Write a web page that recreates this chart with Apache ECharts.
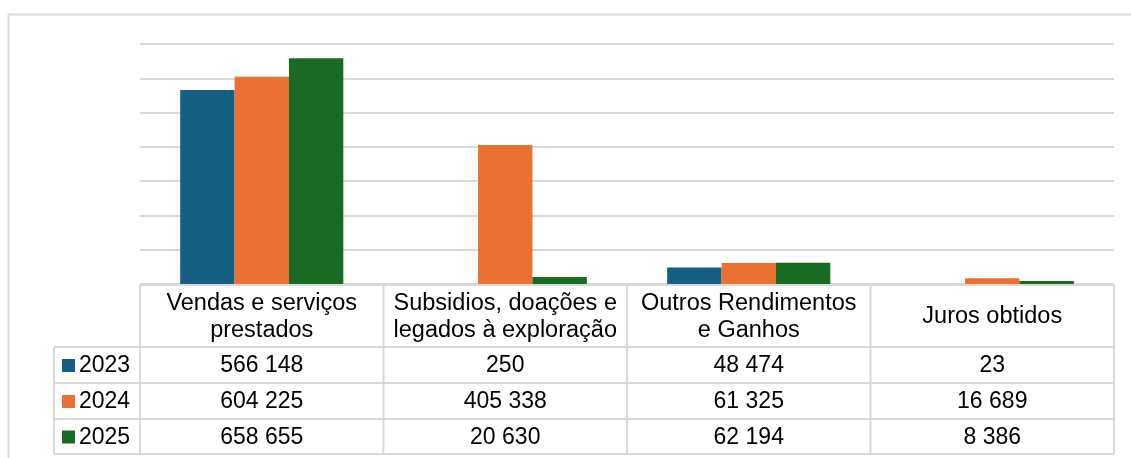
<!DOCTYPE html>
<html>
<head>
<meta charset="utf-8">
<script src="https://cdn.jsdelivr.net/npm/echarts@6/dist/echarts.min.js"></script>
<style>
  html, body { margin: 0; padding: 0; background: #fff; }
  #chart { width: 1131px; height: 458px; }
</style>
</head>
<body>
<div id="chart"></div>
<script>
// categorias e valores (tabela de dados)
const categories = ['Vendas e serviços\nprestados', 'Subsidios, doações e\nlegados à exploração', 'Outros Rendimentos\ne Ganhos', 'Juros obtidos']
const years = ['2023', '2024', '2025']
const values2023 = [566148, 250, 48474, 23]
const values2024 = [604225, 405338, 61325, 16689]
const values2025 = [658655, 20630, 62194, 8386]
const yTicks = [0, 100000, 200000, 300000, 400000, 500000, 600000, 700000]

const seriesValues = [values2023, values2024, values2025]
const colors = ['#156082', '#E97132', '#196B24']
const lineColor = '#d9d9d9'
const font = '"Liberation Sans", Arial, sans-serif'

// formata com espaço como separador de milhares
function fmt(v) {
  return String(v).replace(/\B(?=(\d{3})+(?!\d))/g, ' ')
}

const chart = echarts.init(document.getElementById('chart'), null, { renderer: 'canvas' })

chart.setOption({
  animation: false,
  grid: { left: 140, right: 17, top: 44, bottom: 174 },
  xAxis: {
    type: 'category',
    data: categories,
    axisLine: { show: false },
    axisTick: { show: false },
    axisLabel: { show: false },
  },
  yAxis: {
    type: 'value',
    min: yTicks[0],
    max: yTicks[yTicks.length - 1],
    interval: yTicks[1] - yTicks[0],
    axisLabel: { show: false },
    axisLine: { show: false },
    axisTick: { show: false },
    splitLine: { lineStyle: { color: lineColor, width: 2 } },
  },
  series: years.map((y, i) => ({
    name: y,
    type: 'bar',
    data: seriesValues[i],
    barGap: '0%',
    barCategoryGap: '33%',
    itemStyle: { color: colors[i] },
  })),
})

// tabela de dados desenhada por baixo do gráfico
const centers = categories.map((c, i) => chart.convertToPixel({ xAxisIndex: 0 }, i))
const band = centers[1] - centers[0]
const colEdges = [centers[0] - band / 2].concat(centers.map(c => c + band / 2))
const tableTop = 285
const headerBottom = 347
const rowEdges = [headerBottom, 383, 419, 454]
const legendLeft = 54

const g = []
function hline(x1, x2, y) {
  g.push({ type: 'line', shape: { x1, y1: y, x2, y2: y }, style: { stroke: lineColor, lineWidth: 2 }, silent: true })
}
function vline(x, y1, y2) {
  g.push({ type: 'line', shape: { x1: x, y1, x2: x, y2 }, style: { stroke: lineColor, lineWidth: 2 }, silent: true })
}

// moldura exterior
g.push({
  type: 'rect',
  shape: { x: 8.5, y: 14.5, width: 1124, height: 470 },
  style: { fill: 'none', stroke: lineColor, lineWidth: 2 },
  silent: true,
})

hline(colEdges[0], colEdges[4], tableTop)
rowEdges.forEach(y => hline(legendLeft, colEdges[4], y))
colEdges.forEach(x => vline(x, tableTop, rowEdges[3]))
vline(legendLeft, rowEdges[0], rowEdges[3])

// cabeçalhos
categories.forEach((c, i) => {
  g.push({
    type: 'text',
    x: centers[i],
    y: (tableTop + headerBottom) / 2 + 1,
    style: { text: c, font: '23.5px ' + font, fill: '#000', align: 'center', verticalAlign: 'middle', lineHeight: 27 },
    silent: true,
  })
})

// linhas com legenda e valores
years.forEach((y, r) => {
  const cy = (rowEdges[r] + rowEdges[r + 1]) / 2 + 1
  g.push({ type: 'rect', shape: { x: 62, y: cy - 7, width: 13, height: 13 }, style: { fill: colors[r] }, silent: true })
  g.push({
    type: 'text', x: 79, y: cy,
    style: { text: y, font: '23px ' + font, fill: '#000', align: 'left', verticalAlign: 'middle' },
    silent: true,
  })
  seriesValues[r].forEach((v, i) => {
    g.push({
      type: 'text', x: centers[i], y: cy,
      style: { text: fmt(v), font: '23px ' + font, fill: '#000', align: 'center', verticalAlign: 'middle' },
      silent: true,
    })
  })
})

chart.setOption({ graphic: g })
</script>
</body>
</html>
